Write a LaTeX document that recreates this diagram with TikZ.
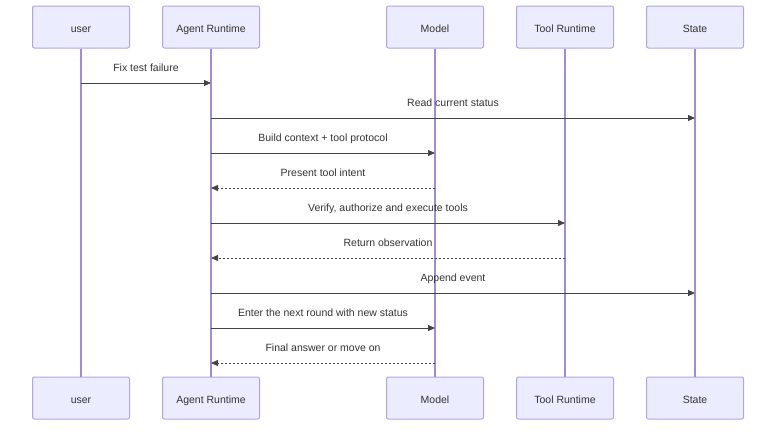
\documentclass[tikz,border=0pt]{standalone}
\usepackage{fontspec}
\setmainfont{Liberation Sans}
\usetikzlibrary{arrows.meta,positioning,calc}
\definecolor{actfill}{HTML}{ECECFF}
\definecolor{actline}{HTML}{B3A3E6}
\definecolor{lifeln}{HTML}{A08CDC}
\definecolor{msgln}{HTML}{444444}
\definecolor{txt}{HTML}{333333}
\tikzset{
  actor/.style ={draw=actline,fill=actfill,rounded corners=2pt,line width=1pt,
                 minimum width=97pt,minimum height=42pt,text height=10pt,text depth=0pt,
                 font=\fontsize{10.5}{12}\selectfont,text=txt},
  life/.style  ={draw=lifeln,line width=1.2pt},
  msg/.style   ={draw=msgln,line width=1pt,-{Triangle[length=7pt,width=6pt]}},
  reply/.style ={msg,dash pattern=on 2pt off 2pt},
  lbl/.style   ={font=\fontsize{10.5}{12}\selectfont,text=txt,inner sep=0pt,
                 text height=7.5pt,text depth=2pt,above=9pt},
}
\begin{document}
\begin{tikzpicture}[x=1pt,y=-1pt]
  \useasboundingbox (0,0) rectangle (784,432);
  \node[actor] (user)  at (81,27)  {user};
  \node[actor] (agent) at (211,27) {Agent Runtime};
  \node[actor] (model) at (435,27) {Model};
  \node[actor] (tool)  at (565,27) {Tool Runtime};
  \node[actor] (state) at (695,27) {State};
  \node[actor] (user')  at (81,398)  {user};
  \node[actor] (agent') at (211,398) {Agent Runtime};
  \node[actor] (model') at (435,398) {Model};
  \node[actor] (tool')  at (565,398) {Tool Runtime};
  \node[actor] (state') at (695,398) {State};
  \foreach \a in {user,agent,model,tool,state}
    \draw[life] (\a) -- (\a');
  \foreach \i/\y in {1/83,2/118,3/153,4/188,5/223,6/258,7/293,8/328,9/363}
    \coordinate (r\i) at (0,\y);
  \draw[msg] (user |- r1) -- node[lbl]{Fix test failure} (agent |- r1);
  \draw[msg] (agent |- r2) -- node[lbl]{Read current status} (state |- r2);
  \draw[msg] (agent |- r3) -- node[lbl]{Build context + tool protocol} (model |- r3);
  \draw[reply] (model |- r4) -- node[lbl]{Present tool intent} (agent |- r4);
  \draw[msg] (agent |- r5) -- node[lbl]{Verify, authorize and execute tools} (tool |- r5);
  \draw[reply] (tool |- r6) -- node[lbl]{Return observation} (agent |- r6);
  \draw[msg] (agent |- r7) -- node[lbl]{Append event} (state |- r7);
  \draw[msg] (agent |- r8) -- node[lbl]{Enter the next round with new status} (model |- r8);
  \draw[reply] (model |- r9) -- node[lbl]{Final answer or move on} (agent |- r9);
\end{tikzpicture}
\end{document}
